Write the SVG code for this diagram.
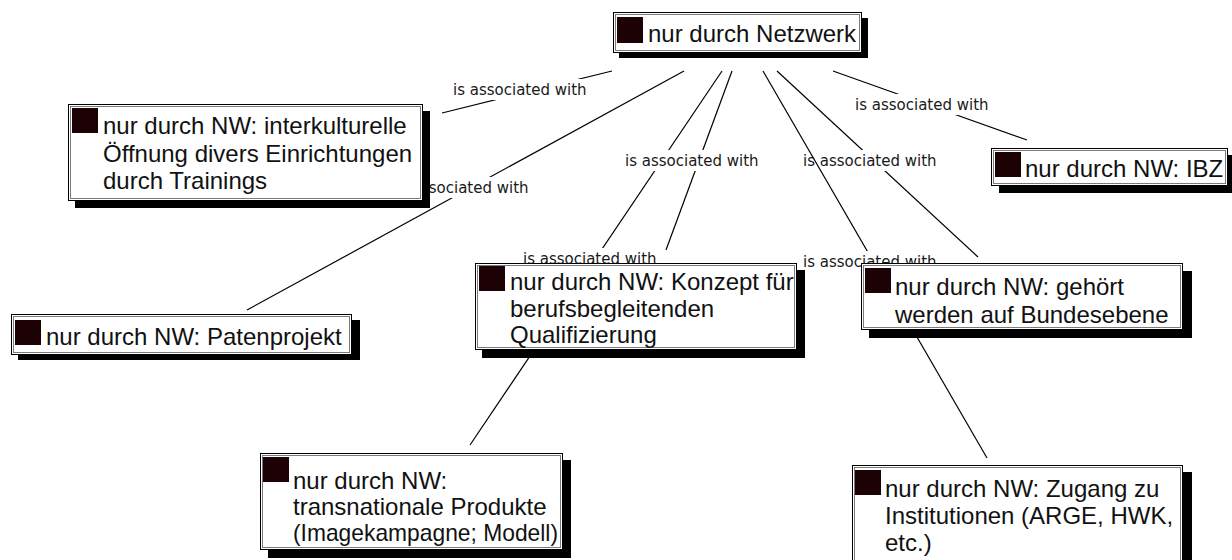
<svg xmlns="http://www.w3.org/2000/svg" width="1232" height="560" viewBox="0 0 1232 560">
  <style>
    .edge { stroke: #000; stroke-width: 1.2; fill: none; }
    .lbg { fill: #fff; }
    .lbl { font-family: "DejaVu Sans", Verdana, sans-serif; font-size: 15px; fill: #1a1a1a; }
    .shadow { fill: #000; }
    .box { fill: #fff; stroke: #000; stroke-width: 1; }
    .inner { fill: none; stroke: #7a7a7a; stroke-width: 1; }
    .icon { fill: #1c0204; }
    .txt { font-family: "Liberation Sans", Arial, sans-serif; font-size: 24px; fill: #111; }
  </style>

  <!-- connectors: each line with its label; later labels mask earlier lines -->
  <g id="connectors">
    <g id="e-transnational">
      <line class="edge" x1="722" y1="71" x2="470" y2="445"/>
      <rect class="lbg" x="522" y="248" width="136" height="21"/>
      <text class="lbl" x="523" y="264">is associated with</text>
    </g>
    <g id="e-konzept">
      <line class="edge" x1="732" y1="71" x2="666" y2="250"/>
      <rect class="lbg" x="624" y="150" width="136" height="21"/>
      <text class="lbl" x="625" y="166">is associated with</text>
    </g>
    <g id="e-gehoert">
      <line class="edge" x1="777" y1="71" x2="978" y2="257"/>
      <rect class="lbg" x="802" y="150" width="136" height="21"/>
      <text class="lbl" x="803" y="166">is associated with</text>
    </g>
    <g id="e-zugang">
      <line class="edge" x1="763" y1="71" x2="987" y2="458"/>
      <rect class="lbg" x="802" y="251" width="136" height="21"/>
      <text class="lbl" x="803" y="267">is associated with</text>
    </g>
    <g id="e-interkulturell">
      <line class="edge" x1="612" y1="71" x2="442" y2="113"/>
      <rect class="lbg" x="452" y="79" width="136" height="21"/>
      <text class="lbl" x="453" y="95">is associated with</text>
    </g>
    <g id="e-paten">
      <line class="edge" x1="684" y1="71" x2="247" y2="310"/>
      <rect class="lbg" x="394" y="177" width="136" height="21"/>
      <text class="lbl" x="395" y="193">is associated with</text>
    </g>
    <g id="e-ibz">
      <line class="edge" x1="833" y1="71" x2="1027" y2="140"/>
      <rect class="lbg" x="854" y="94" width="136" height="21"/>
      <text class="lbl" x="855" y="110">is associated with</text>
    </g>
  </g>

  <!-- nodes -->
  <g id="n-netzwerk">
    <rect class="shadow" x="619" y="18" width="249" height="40"/>
    <rect class="box" x="613.5" y="12.5" width="248" height="40"/>
    <rect class="inner" x="615.5" y="14.5" width="244" height="36"/>
    <rect class="icon" x="617" y="17" width="26" height="26"/>
    <text class="txt" x="648" y="42">nur durch Netzwerk</text>
  </g>

  <g id="n-interkulturell">
    <rect class="shadow" x="75" y="111" width="355" height="97"/>
    <rect class="box" x="68.5" y="104.5" width="354" height="96"/>
    <rect class="inner" x="70.5" y="106.5" width="350" height="92"/>
    <rect class="icon" x="72" y="108" width="26" height="25"/>
    <text class="txt" x="103" y="134">nur durch NW: interkulturelle</text>
    <text class="txt" x="103" y="162">Öffnung divers Einrichtungen</text>
    <text class="txt" x="103" y="189">durch Trainings</text>
  </g>

  <g id="n-ibz">
    <rect class="shadow" x="999" y="155" width="236" height="38"/>
    <rect class="box" x="991.5" y="148.5" width="236" height="37"/>
    <rect class="inner" x="993.5" y="150.5" width="232" height="33"/>
    <rect class="icon" x="995" y="152" width="26" height="25"/>
    <text class="txt" x="1025" y="177">nur durch NW: IBZ</text>
  </g>

  <g id="n-paten">
    <rect class="shadow" x="18" y="320" width="342" height="40"/>
    <rect class="box" x="11.5" y="314.5" width="340" height="40"/>
    <rect class="inner" x="13.5" y="316.5" width="336" height="36"/>
    <rect class="icon" x="15" y="320" width="26" height="25"/>
    <text class="txt" x="46" y="345">nur durch NW: Patenprojekt</text>
  </g>

  <g id="n-konzept">
    <rect class="shadow" x="482" y="270" width="323" height="88"/>
    <rect class="box" x="475.5" y="263.5" width="321" height="86"/>
    <rect class="inner" x="477.5" y="265.5" width="317" height="82"/>
    <rect class="icon" x="479" y="266" width="26" height="25"/>
    <text class="txt" x="510" y="290">nur durch NW: Konzept für</text>
    <text class="txt" x="510" y="316.5">berufsbegleitenden</text>
    <text class="txt" x="510" y="343">Qualifizierung</text>
  </g>

  <g id="n-gehoert">
    <rect class="shadow" x="869" y="271" width="323" height="67"/>
    <rect class="box" x="861.5" y="263.5" width="321" height="66"/>
    <rect class="inner" x="863.5" y="265.5" width="317" height="62"/>
    <rect class="icon" x="865" y="268" width="26" height="25"/>
    <text class="txt" x="895" y="295">nur durch NW: gehört</text>
    <text class="txt" x="895" y="323">werden auf Bundesebene</text>
  </g>

  <g id="n-transnational">
    <rect class="shadow" x="268" y="460" width="303" height="98"/>
    <rect class="box" x="260.5" y="453.5" width="302" height="96"/>
    <rect class="inner" x="262.5" y="455.5" width="298" height="92"/>
    <rect class="icon" x="263" y="457" width="26" height="25"/>
    <text class="txt" x="293" y="489">nur durch NW:</text>
    <text class="txt" x="293" y="515">transnationale Produkte</text>
    <text class="txt" x="293" y="541" textLength="265" lengthAdjust="spacingAndGlyphs">(Imagekampagne; Modell)</text>
  </g>

  <g id="n-zugang">
    <rect class="shadow" x="860" y="472" width="332" height="100"/>
    <rect class="box" x="852.5" y="465.5" width="330" height="100"/>
    <rect class="inner" x="854.5" y="467.5" width="326" height="96"/>
    <rect class="icon" x="855" y="470" width="26" height="25"/>
    <text class="txt" x="885" y="497">nur durch NW: Zugang zu</text>
    <text class="txt" x="885" y="524">Institutionen (ARGE, HWK,</text>
    <text class="txt" x="885" y="551">etc.)</text>
  </g>
</svg>
